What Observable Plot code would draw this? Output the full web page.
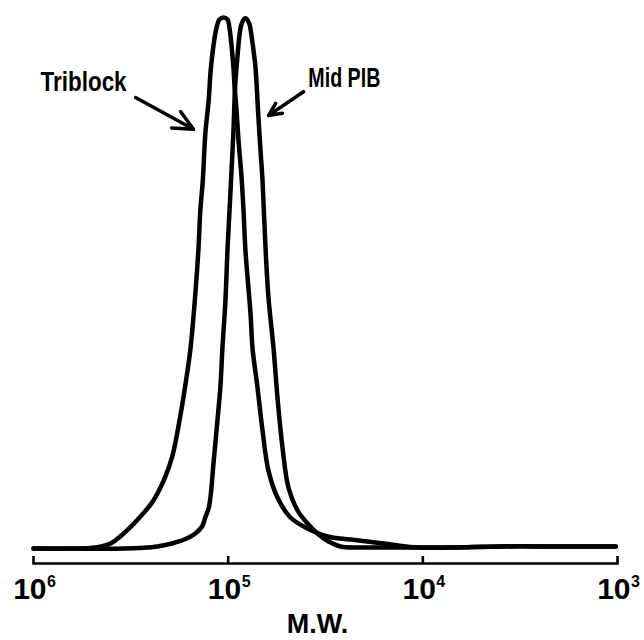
<!DOCTYPE html>
<html>
<head>
<meta charset="utf-8">
<script src="https://cdn.jsdelivr.net/npm/d3@7"></script>
<script src="https://cdn.jsdelivr.net/npm/@observablehq/plot@0.6"></script>
<style>
  html, body { margin: 0; padding: 0; background: #fff; }
</style>
</head>
<body>
<div id="chart"></div>
<script>
// Molecular weight (x) and relative detector response (y, peak = 100)
const triblockMW = [1000000, 646000, 480000, 402000, 349000, 282000, 242000, 210000, 193000, 176000, 166000, 156000, 147000, 142000, 139000, 135000, 131000, 126000, 123000, 119000, 115000, 111000, 105700, 100700, 98400, 96100, 93900, 92800, 90600, 88500, 85500, 83400, 81500, 76800, 75000, 70700, 66600, 62100, 55800, 47900, 39100, 30900, 23500, 15900, 10650, 7210, 3990, 1960, 1020];
const triblockY  = [-0.2, -0.2, 0, 0.75, 2.45, 5.85, 8.87, 13.4, 17.4, 24.9, 30.6, 37.7, 48.5, 56.6, 63.6, 69.2, 78.1, 84.3, 90.0, 94.7, 97.9, 99.6, 100, 99.6, 97.9, 94.7, 90.4, 87.2, 82.5, 76.8, 70.2, 63.6, 56.0, 44.2, 37.7, 30.2, 22.1, 14.5, 9.43, 5.66, 3.58, 2.08, 1.51, 0.75, 0, 0, 0.2, 0.2, 0.2];

const midPibMW = [1000000, 624000, 345000, 231000, 195000, 168000, 148000, 136000, 131000, 126000, 123000, 119000, 113500, 109500, 107000, 103300, 100700, 98400, 96100, 93900, 92800, 91700, 89500, 87500, 85500, 82400, 80600, 77700, 75900, 74100, 72400, 69900, 68200, 66600, 64300, 62100, 58500, 55800, 52600, 49000, 44000, 39100, 34300, 30500, 26500, 20900, 13000, 7210, 3990, 1960, 1020];
const midPibY  = [-0.2, -0.2, -0.2, 0.2, 0.75, 1.5, 2.6, 4.0, 5.7, 7.4, 9.8, 15.8, 24.0, 30.6, 37.7, 46.6, 56.6, 63.6, 71.1, 78.7, 84.3, 88.1, 92.8, 96.6, 98.7, 99.8, 99.8, 98.7, 96.6, 93.8, 90.6, 81.1, 74.9, 69.2, 56.6, 47.2, 37.7, 28.3, 18.9, 11.3, 6.98, 4.53, 2.45, 1.13, 0.2, 0, 0, 0, 0.2, 0.2, 0.2];

const tickValues = [1e6, 1e5, 1e4, 1e3];
const tickExponents = ["6", "5", "4", "3"];
const xLabel = "M.W.";

// annotation labels and arrows
const labelNames = ["Triblock", "Mid PIB"];
const labelMW = [553000, 25300];
const labelY = [87.8, 88.6];
const arrowFromMW = [299000, 41000];
const arrowFromY = [84.9, 86.0];
const arrowToMW = [150600, 62100];
const arrowToY = [78.9, 81.5];

const series = [
  ...triblockMW.map((mw, i) => ({series: "Triblock", mw, y: triblockY[i]})),
  ...midPibMW.map((mw, i) => ({series: "Mid PIB", mw, y: midPibY[i]}))
];
const labels = labelNames.map((name, i) => ({name, mw: labelMW[i], y: labelY[i]}));
const arrows = labelNames.map((name, i) => ({
  x1: arrowFromMW[i], y1: arrowFromY[i], x2: arrowToMW[i], y2: arrowToY[i]
}));
const ticks = tickValues.map((v, i) => ({v, e: tickExponents[i]}));

const chart = Plot.plot({
  width: 644,
  height: 640,
  marginLeft: 33,
  marginRight: 27,
  marginTop: 17,
  marginBottom: 77,
  style: {background: "white", overflow: "visible"},
  x: {type: "log", domain: [1e6, 1e3], axis: null},
  y: {domain: [-3.02, 100], axis: null},
  marks: [
    Plot.frame({anchor: "bottom", strokeWidth: 2.6}),
    Plot.axisX(tickValues, {anchor: "bottom", tickSize: 7, dy: -7, strokeWidth: 2.6, tickFormat: () => ""}),
    Plot.line(series, {
      x: "mw", y: "y", z: "series",
      stroke: "black", strokeWidth: 4.5, curve: "catmull-rom",
      strokeLinejoin: "round", strokeLinecap: "round"
    }),
    Plot.text(ticks, {
      x: "v", text: () => "10", frameAnchor: "bottom",
      textAnchor: "end", lineAnchor: "middle", dx: 13, dy: 25.5,
      fontSize: 30, fontWeight: "bold", fontFamily: "Liberation Sans", fill: "black"
    }),
    Plot.text(ticks, {
      x: "v", text: "e", frameAnchor: "bottom",
      textAnchor: "start", lineAnchor: "middle", dx: 13.5, dy: 18,
      fontSize: 16, fontWeight: "bold", fontFamily: "Liberation Sans", fill: "black"
    }),
    Plot.text([xLabel], {
      frameAnchor: "bottom", text: d => d, lineAnchor: "middle",
      dx: -8, dy: 61, fontSize: 27, fontWeight: "bold",
      fontFamily: "Liberation Sans", fill: "black"
    }),
    Plot.text(labels, {
      x: "mw", y: "y", text: "name", lineAnchor: "middle",
      fontSize: 28, fontWeight: "bold", fontFamily: "Liberation Sans", fill: "black"
    }),
    Plot.arrow(arrows, {
      x1: "x1", y1: "y1", x2: "x2", y2: "y2",
      stroke: "black", strokeWidth: 3.5, headLength: 13, headAngle: 50
    })
  ]
});
// condense the hand-lettered annotation labels to their original widths
const labelWidths = {"Triblock": 86, "Mid PIB": 72};
d3.select(chart).selectAll("text").each(function () {
  const t = this.textContent;
  if (labelWidths[t]) {
    d3.select(this).attr("textLength", labelWidths[t]).attr("lengthAdjust", "spacingAndGlyphs");
  }
});
document.getElementById("chart").appendChild(chart);
</script>
</body>
</html>
